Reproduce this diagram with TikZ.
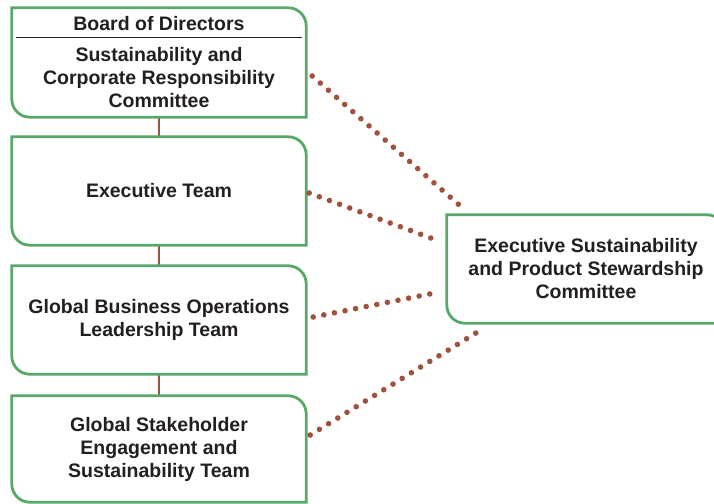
\documentclass[tikz,border=0pt]{standalone}
\usepackage{fontspec}
\setmainfont{Liberation Sans}
\usetikzlibrary{calc}
\definecolor{boxgreen}{RGB}{88,168,104}
\definecolor{linkbrown}{RGB}{160,82,62}
\definecolor{txt}{RGB}{35,31,32}
\newcommand\leafbox[1]{%
  \draw[boxline] (#1.north west) -- ([xshift=-18pt]#1.north east)
    arc[start angle=90,end angle=0,radius=18pt] -- (#1.south east)
    -- ([xshift=18pt]#1.south west)
    arc[start angle=270,end angle=180,radius=18pt] -- cycle;}
\begin{document}
\begin{tikzpicture}[x=1pt,y=1pt,
  boxline/.style={draw=boxgreen,line width=2.8pt,fill=white},
  boxshape/.style={rectangle,inner sep=0pt,minimum width=294pt,minimum height=108pt},
  label/.style={text=txt,align=center,font=\fontsize{19.5}{23}\selectfont\bfseries},
  vlink/.style={draw=linkbrown,line width=2.4pt},
  dotlink/.style={draw=linkbrown,line width=5.6pt,line cap=round,dash pattern=on 0pt off 10.8pt}]
\useasboundingbox (0,0) rectangle (714,503);
% shapes
\node[boxshape,minimum height=109pt] (b1) at (159,440.5) {};
\node[boxshape] (b2) at (159,312) {};
\node[boxshape] (b3) at (159,183) {};
\node[boxshape,minimum height=106pt] (b4) at (159,54) {};
\node[boxshape,minimum width=278pt] (rb) at (586,234) {};
% vertical links
\draw[vlink] (b1.south) -- (b2.north);
\draw[vlink] (b2.south) -- (b3.north);
\draw[vlink] (b3.south) -- (b4.north);
% boxes
\leafbox{b1}\leafbox{b2}\leafbox{b3}\leafbox{b4}\leafbox{rb}
% texts
\node[label] (t1a) at (159,479) {Board of Directors};
\coordinate (bl) at (16,465);
\coordinate (br) at (302,465);
\draw[line width=1pt,txt] (bl) -- (br);
\node[label] (t1b) at (159,425.5) {Sustainability and\\Corporate Responsibility\\Committee};
\node[label] (t2) at (b2) {Executive Team};
\node[label] (t3) at (b3) {Global Business Operations\\Leadership Team};
\node[label] (t4) at (b4) {Global Stakeholder\\Engagement and\\Sustainability Team};
\node[label] (t5) at (rb) {Executive Sustainability\\and Product Stewardship\\Committee};
% dotted links
\coordinate (s1) at ($(b1.east)+(6,-13.5)$);
\coordinate (e1) at ($(rb.north west)+(19,4)$);
\coordinate (s2) at ($(b2.east)+(3,-2)$);
\coordinate (e2) at ($(rb.west)+(-8,28)$);
\coordinate (s3) at ($(b3.east)+(7,3)$);
\coordinate (e3) at ($(rb.west)+(-7,-23)$);
\coordinate (s4) at ($(b4.east)+(4,14)$);
\coordinate (e4) at ($(rb.south west)+(37,-5)$);
\draw[dotlink] (s1) -- (e1);
\draw[dotlink] (s2) -- (e2);
\draw[dotlink] (s3) -- (e3);
\draw[dotlink] (s4) -- (e4);
\end{tikzpicture}
\end{document}
